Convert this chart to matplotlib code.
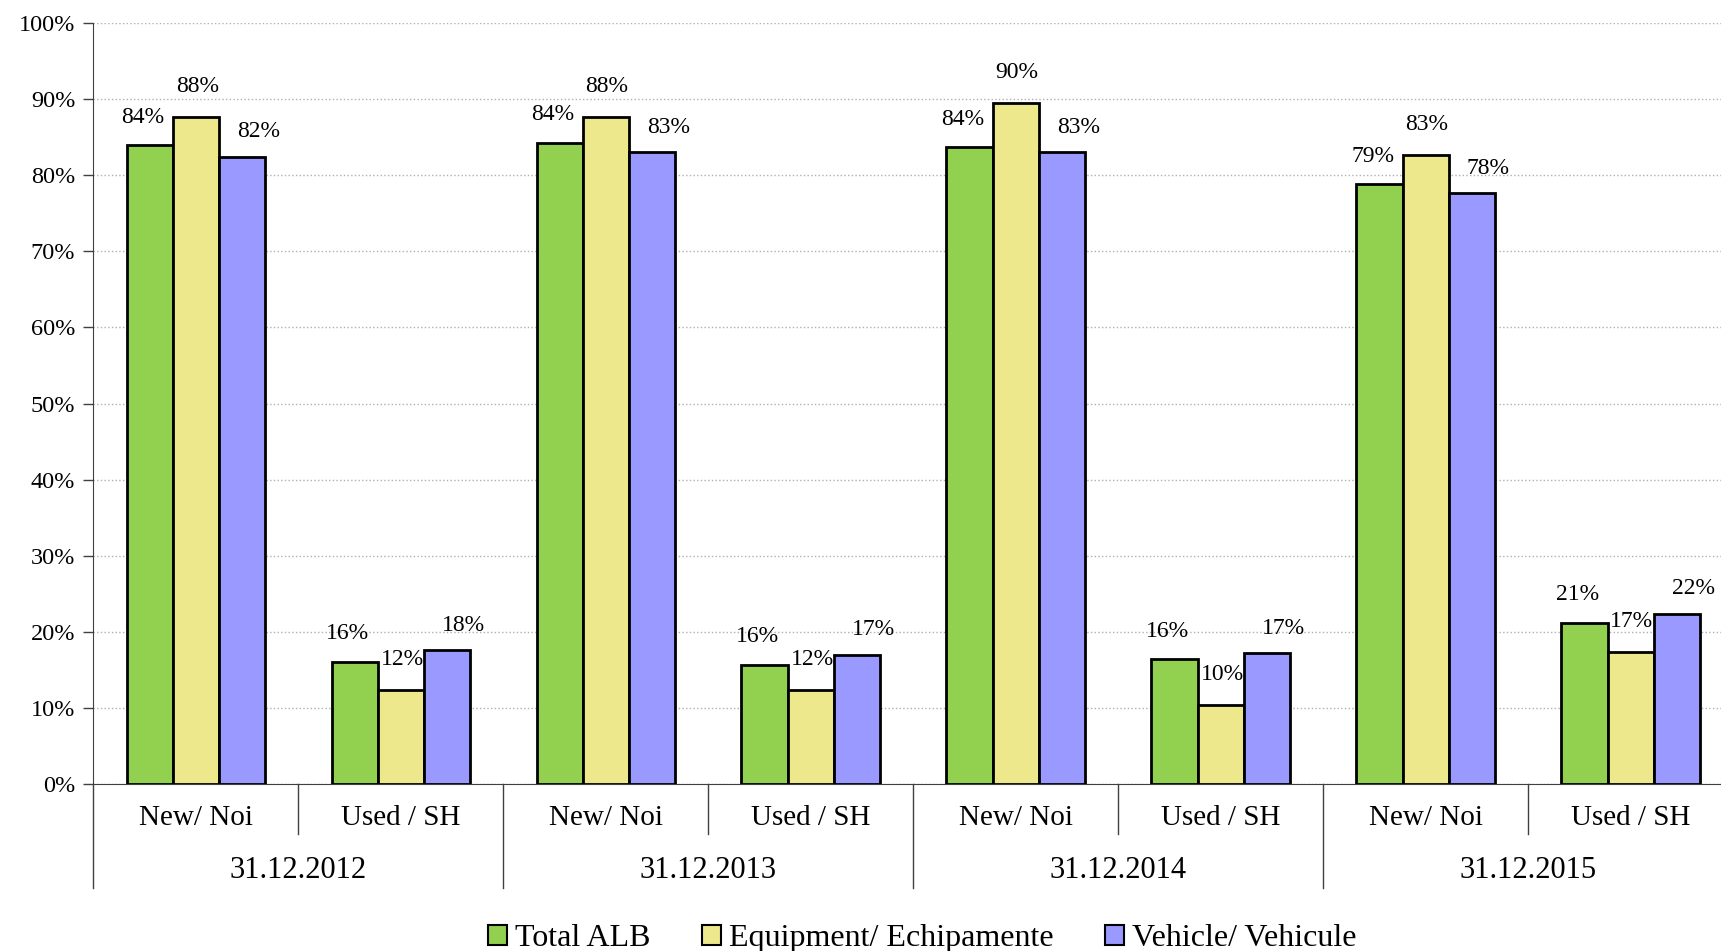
import matplotlib.pyplot as plt
from matplotlib.patches import Patch

plt.rcParams['font.family'] = ['Liberation Serif', 'DejaVu Serif']

# data (percent)
years = ['31.12.2012', '31.12.2013', '31.12.2014', '31.12.2015']
conditions = ['New/ Noi', 'Used / SH']
series_names = ['Total ALB', 'Equipment/ Echipamente', 'Vehicle/ Vehicule']
total_alb = [84.0, 16.1, 84.3, 15.7, 83.7, 16.4, 78.8, 21.2]
equipment = [87.7, 12.3, 87.7, 12.4, 89.5, 10.4, 82.6, 17.4]
vehicle = [82.4, 17.6, 83.0, 17.0, 83.0, 17.2, 77.6, 22.4]

colors = ['#92D050', '#EEE88C', '#9999FF']
label_offsets = [(-5, 20), (1, 22), (12, 18)]

fig = plt.figure(figsize=(17.21, 9.51), dpi=100)
ax = fig.add_axes([0.0542, 0.1755, 0.9528, 0.8003])

n_cat = len(years) * len(conditions)
xs = list(range(n_cat))
width = 0.225

for i, (name, vals) in enumerate(zip(series_names, [total_alb, equipment, vehicle])):
    pos = [x + (i - 1) * width for x in xs]
    bars = ax.bar(pos, vals, width=width, color=colors[i], edgecolor='black',
                  linewidth=2, label=name, zorder=3)
    for b, v in zip(bars, vals):
        ax.annotate(f'{round(v):d}%', (b.get_x() + b.get_width() / 2, v),
                    xytext=label_offsets[i], textcoords='offset points',
                    ha='center', va='center', fontsize=17, zorder=4)

ax.set_xlim(-0.5, n_cat - 0.5)
ax.set_ylim(0, 100)
ax.set_yticks(range(0, 101, 10))
ax.set_yticklabels([f'{t}%' for t in range(0, 101, 10)], fontsize=17.5)
ax.tick_params(axis='y', length=7, width=1, color='#404040', pad=6)
ax.yaxis.grid(True, linestyle=':', color='#B0B0B0', linewidth=1, zorder=0)
ax.set_xticks([])

for s in ['top', 'right']:
    ax.spines[s].set_visible(False)
ax.spines['left'].set_color('#404040')
ax.spines['bottom'].set_color('#404040')

# two-level category axis
tr = ax.get_xaxis_transform()
for k, x in enumerate(xs):
    ax.text(x, -0.045, conditions[k % 2], transform=tr, ha='center', va='center',
            fontsize=21)
for k, yr in enumerate(years):
    ax.text(2 * k + 0.5, -0.114, yr, transform=tr, ha='center', va='center',
            fontsize=22)
    ax.plot([2 * k + 0.5, 2 * k + 0.5], [0, -0.066], transform=tr, color='#404040',
            linewidth=1, clip_on=False)
    ax.plot([2 * k - 0.5, 2 * k - 0.5], [0, -0.136], transform=tr, color='#404040',
            linewidth=1, clip_on=False)

handles = [Patch(facecolor=c, edgecolor='black', linewidth=1.5) for c in colors]
fig.legend(handles, series_names, loc='center', bbox_to_anchor=(0.536, 0.013),
           ncol=3, frameon=False, fontsize=23, handlelength=0.6, handleheight=0.6,
           handletextpad=0.25, columnspacing=1.6)

fig.savefig('out.png', dpi=100)
